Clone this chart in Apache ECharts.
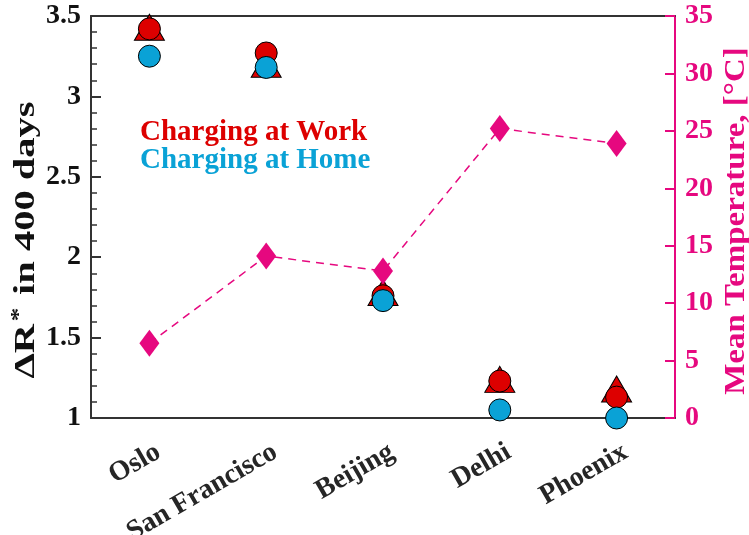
<!DOCTYPE html>
<html>
<head>
<meta charset="utf-8">
<script src="https://cdn.jsdelivr.net/npm/echarts@6/dist/echarts.min.js"></script>
<style>
  html, body { margin: 0; padding: 0; background: #fff; }
  #chart { width: 749px; height: 535px; }
</style>
</head>
<body>
<div id="chart"></div>
<script>
// Cities along the x axis
const cities = ['Oslo', 'San Francisco', 'Beijing', 'Delhi', 'Phoenix'];

// ΔR* after 400 days (left axis)
const workTriangle = [3.43, 3.20, 1.78, 1.24, 1.18];
const workCircle   = [3.42, 3.27, 1.76, 1.23, 1.13];
const homeCircle   = [3.25, 3.18, 1.73, 1.05, 1.00];

// Mean temperature in °C (right axis)
const meanTemp = [6.5, 14.1, 12.8, 25.2, 23.9];

// Axis tick values
const leftTicks = { min: 1, max: 3.5, step: 0.5 };
const rightTicks = { min: 0, max: 35, step: 5 };

const RED = '#dd0000';
const BLUE = '#0aa2d6';
const MAGENTA = '#e6087f';
const AXIS = '#333333';
const FONT = 'Liberation Serif';

const chart = echarts.init(document.getElementById('chart'), null, { renderer: 'canvas' });

const markerStyle = (fill) => ({ color: fill, borderColor: '#000', borderWidth: 1, opacity: 1 });

chart.setOption({
  animation: false,
  backgroundColor: '#fff',
  grid: { left: 91, right: 74, top: 16, bottom: 117, outerBoundsMode: 'none', containLabel: false },
  xAxis: [
    {
      type: 'category',
      data: cities,
      position: 'bottom',
      boundaryGap: true,
      axisLine: { lineStyle: { color: AXIS, width: 2 } },
      axisTick: { inside: true, length: 10, alignWithLabel: true, lineStyle: { color: AXIS, width: 2 } },
      axisLabel: { show: false }
    },
    {
      type: 'category',
      data: cities,
      position: 'top',
      boundaryGap: true,
      axisLine: { lineStyle: { color: AXIS, width: 2 } },
      axisTick: { inside: true, length: 10, alignWithLabel: true, lineStyle: { color: AXIS, width: 2 } },
      axisLabel: { show: false }
    }
  ],
  yAxis: [
    {
      type: 'value',
      position: 'left',
      min: leftTicks.min,
      max: leftTicks.max,
      interval: leftTicks.step,
      splitLine: { show: false },
      axisLine: { show: true, lineStyle: { color: AXIS, width: 2 } },
      axisTick: { show: true, inside: true, length: 10, lineStyle: { color: AXIS, width: 2 } },
      minorTick: { show: true, splitNumber: 5, length: 6, lineStyle: { color: AXIS, width: 1.5 } },
      axisLabel: {
        color: '#111',
        fontFamily: FONT,
        fontWeight: 'bold',
        fontSize: 28,
        margin: 10
      }
    },
    {
      type: 'value',
      position: 'right',
      min: rightTicks.min,
      max: rightTicks.max,
      interval: rightTicks.step,
      splitLine: { show: false },
      axisLine: { show: true, lineStyle: { color: MAGENTA, width: 2 } },
      axisTick: { show: true, inside: true, length: 10, lineStyle: { color: MAGENTA, width: 2 } },
      axisLabel: {
        color: MAGENTA,
        fontFamily: FONT,
        fontWeight: 'bold',
        fontSize: 28,
        margin: 10
      }
    }
  ],
  series: [
    {
      name: 'Work (triangle)',
      type: 'scatter',
      clip: false,
      symbol: 'triangle',
      symbolSize: [30, 26],
      data: workTriangle,
      itemStyle: markerStyle(RED),
      emphasis: { disabled: true }
    },
    {
      name: 'Charging at Work',
      type: 'scatter',
      clip: false,
      symbol: 'circle',
      symbolSize: 22,
      data: workCircle,
      itemStyle: markerStyle(RED),
      emphasis: { disabled: true }
    },
    {
      name: 'Charging at Home',
      type: 'scatter',
      clip: false,
      symbol: 'circle',
      symbolSize: 22,
      data: homeCircle,
      itemStyle: markerStyle(BLUE),
      emphasis: { disabled: true }
    },
    {
      name: 'Mean Temperature',
      type: 'line',
      yAxisIndex: 1,
      data: meanTemp,
      symbol: 'diamond',
      symbolSize: [20, 27],
      showAllSymbol: true,
      clip: false,
      lineStyle: { color: MAGENTA, width: 1.5, type: [8, 6] },
      itemStyle: { color: MAGENTA, borderWidth: 0, opacity: 1 },
      emphasis: { disabled: true }
    }
  ]
});

// Rotated city labels, placed from the category axis positions
const baseY = chart.convertToPixel({ yAxisIndex: 0 }, leftTicks.min);
const cityLabels = cities.map((name, i) => {
  const x = chart.convertToPixel({ xAxisIndex: 0 }, name);
  return {
    type: 'text',
    id: 'city-' + i,
    x: x + 2,
    y: baseY + 20,
    rotation: Math.PI / 6,
    style: {
      text: name,
      fill: '#262626',
      font: 'bold 28px "Liberation Serif"',
      align: 'right',
      verticalAlign: 'top'
    }
  };
});

// Axis titles and the in-plot key
const titles = [
  {
    type: 'text',
    id: 'left-title',
    x: 26,
    y: 240,
    rotation: Math.PI / 2,
    scaleX: 1.35,
    style: {
      text: '{t|ΔR}{sup|*}{t| in 400 days}',
      align: 'center',
      verticalAlign: 'middle',
      rich: {
        t: { font: 'bold 30px "Liberation Serif"', fill: '#111' },
        sup: { font: 'bold 20px "Liberation Serif"', fill: '#111', verticalAlign: 'top', padding: [0, 2, 12, 2] }
      }
    }
  },
  {
    type: 'text',
    id: 'right-title',
    x: 736,
    y: 221,
    rotation: Math.PI / 2,
    scaleX: 1.1,
    style: {
      text: 'Mean Temperature, [°C]',
      fill: MAGENTA,
      font: 'bold 30px "Liberation Serif"',
      align: 'center',
      verticalAlign: 'middle'
    }
  },
  {
    type: 'text',
    id: 'key-work',
    x: 140,
    y: 133,
    style: { text: 'Charging at Work', fill: RED, font: 'bold 29px "Liberation Serif"', align: 'left', verticalAlign: 'middle' }
  },
  {
    type: 'text',
    id: 'key-home',
    x: 140,
    y: 161,
    style: { text: 'Charging at Home', fill: BLUE, font: 'bold 29px "Liberation Serif"', align: 'left', verticalAlign: 'middle' }
  }
];

chart.setOption({ graphic: cityLabels.concat(titles) });
</script>
</body>
</html>
